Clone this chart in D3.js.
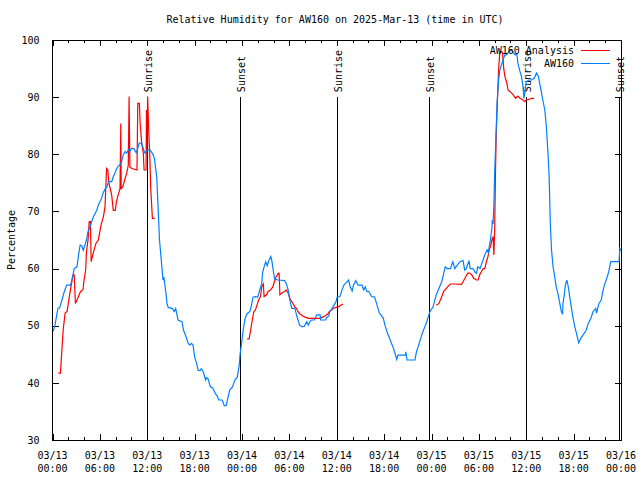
<!DOCTYPE html>
<html><head><meta charset="utf-8">
<script src="https://cdn.jsdelivr.net/npm/d3@7"></script>
<style>
body{margin:0;background:#fff}
text{font-family:"DejaVu Sans Mono","Liberation Mono",monospace;font-size:10px;fill:#000}
</style></head><body>
<svg id="c" width="640" height="480"></svg>
<script>
const title = "Relative Humidity for AW160 on 2025-Mar-13 (time in UTC)";
const yLabel = "Percentage";
const seriesNames = ["AW160 Analysis", "AW160"];
const yTicks = [30,40,50,60,70,80,90,100];
const startUTC = Date.UTC(2025,2,13,0,0);
const endUTC = Date.UTC(2025,2,16,0,0);
const sunriseHours = [12.0, 36.05, 59.97];
const sunsetHours = [23.77, 47.7, 71.71];

// AW160 observations: hours since 03/13 00:00 UTC, RH %
const obsHours = [0.1,0.3,0.5,0.7,0.9,1.2,1.5,1.8,2.3,2.6,2.75,3.1,3.3,3.5,3.7,3.9,4.1,4.3,4.5,4.75,4.95,5.2,5.6,5.8,6.0,6.2,6.4,6.65,6.85,7.1,7.5,7.7,7.9,8.1,8.3,8.5,8.75,8.95,9.2,9.4,9.6,9.8,10.0,10.3,10.6,10.75,11.0,11.3,11.5,11.7,11.9,12.1,12.4,12.75,12.9,13.2,13.3,13.45,13.55,13.7,13.85,14.0,14.1,14.25,14.4,14.5,14.65,15.2,15.4,15.6,15.9,16.4,16.6,16.9,17.2,17.4,17.6,17.8,18.0,18.25,18.45,18.7,18.85,19.1,19.4,19.5,19.7,20.0,20.3,20.6,20.9,21.05,21.5,21.75,22.0,22.15,22.45,22.8,23.1,23.4,23.65,23.75,24.0,24.15,24.4,24.65,25.0,25.2,25.4,25.7,26.0,26.25,26.5,26.6,26.8,27.0,27.2,27.4,27.65,27.8,27.95,28.15,28.6,29.4,29.6,29.85,30.05,30.3,30.7,30.9,31.1,31.3,31.6,31.9,32.2,32.4,32.6,32.8,33.2,33.45,33.9,33.95,34.6,34.7,35.0,35.1,35.4,35.65,35.9,36.05,36.4,36.7,36.9,37.1,37.5,37.7,37.95,38.1,38.4,38.7,39.2,39.4,39.6,39.8,40.1,40.4,40.8,41.1,41.4,41.6,41.9,42.1,42.3,42.5,42.7,42.9,43.15,43.35,43.6,43.75,44.7,44.75,44.9,45.9,46.1,46.3,46.5,46.7,46.9,47.15,47.4,47.6,47.8,48.2,48.4,48.6,48.95,49.3,49.55,49.75,50.0,50.4,50.7,50.95,51.1,51.6,52.0,52.2,52.4,52.75,52.9,53.25,53.5,53.7,53.85,54.15,54.45,54.75,55.05,55.2,55.45,55.65,55.7,55.8,55.9,56.0,56.15,56.3,56.5,56.65,56.85,57.05,57.3,57.5,57.8,58.1,58.35,58.6,58.8,58.95,59.2,59.4,59.6,59.7,59.85,60.0,60.3,60.65,61.0,61.3,61.55,61.7,61.9,62.1,62.35,62.55,62.75,62.9,63.05,63.2,63.4,63.6,63.8,64.0,64.25,64.45,64.6,64.65,64.8,64.95,65.15,65.35,65.5,65.7,65.9,66.15,66.35,66.65,66.9,67.2,67.6,67.85,68.2,68.45,68.8,68.9,69.2,69.5,69.7,69.9,70.2,70.45,70.7,71.5,71.75,71.85,72.0];
const obsRH = [49.0,50.0,51.6,53.1,53.1,54.5,56.0,57.1,57.1,58.9,60.0,60.3,62.4,64.1,64.0,63.2,64.1,65.0,66.5,67.3,68.2,69.1,70.2,71.1,71.7,72.2,73.2,73.9,74.2,75.2,75.2,76.1,76.7,77.4,77.9,78.1,78.7,79.9,80.5,80.2,80.8,80.5,81.0,81.0,80.3,80.8,82.0,81.9,81.0,80.2,80.5,80.8,80.7,79.9,79.3,76.1,73.0,68.3,65.0,62.7,60.3,58.0,58.5,57.0,55.4,53.9,53.2,53.0,52.5,53.0,51.0,50.7,49.2,48.1,46.9,46.6,46.9,46.6,44.6,43.4,42.2,42.2,42.5,41.9,40.5,40.9,40.7,39.3,39.1,38.2,37.6,37.0,37.0,36.0,36.0,37.0,38.75,39.3,40.5,41.0,43.1,44.9,47.5,49.25,51.3,52.1,52.5,53.6,55.0,55.1,55.0,56.25,57.4,59.2,60.3,61.2,60.5,61.4,62.1,61.2,59.75,58.1,58.0,57.9,57.4,56.25,54.5,53.05,53.05,51.9,51.0,50.1,49.8,49.9,50.7,50.1,50.7,51.0,51.0,51.9,51.9,51.0,51.0,51.4,51.7,52.45,53.0,53.6,54.2,55.0,55.1,56.4,57.1,57.4,58.0,56.8,56.1,57.0,57.9,57.1,57.1,56.25,56.8,56.0,55.95,55.1,55.0,53.6,52.2,51.9,51.3,50.1,49.25,48.4,47.8,47.0,46.2,45.3,44.1,44.85,44.9,45.45,44.0,44.0,45.45,46.3,47.2,48.05,48.95,49.8,50.7,51.6,52.45,53.3,54.4,55.4,56.55,57.7,59.2,60.3,60.0,60.0,61.2,60.0,60.3,61.2,61.4,59.75,60.0,61.4,60.0,60.0,59.4,59.2,60.3,60.0,61.2,62.4,63.25,62.8,65.0,67.0,68.5,67.8,71.1,76.7,82.5,88.9,93.0,94.75,95.6,96.5,97.4,97.4,97.95,98.25,97.8,97.4,97.6,95.9,94.5,93.6,91.8,89.8,91.0,92.7,93.0,93.0,93.3,94.2,93.6,92.4,91.0,89.5,87.75,84.8,80.2,76.1,67.9,63.25,60.3,58.6,56.8,55.7,53.9,52.45,52.0,53.9,55.2,57.1,58.0,56.6,55.1,53.3,51.6,49.8,48.7,47.0,47.8,48.4,49.25,50.4,51.3,52.45,53.0,52.2,53.9,54.5,56.0,57.1,58.3,59.45,61.2,61.2,61.2,63.5,63.2];

// AW160 Analysis: three runs (null = gap)
const anaHours = [0.75,1.0,1.15,1.35,1.6,1.85,2.0,2.2,2.45,2.6,2.75,2.9,3.1,3.3,3.55,3.85,4.0,4.2,4.3,4.5,4.65,4.8,4.9,5.15,5.5,5.8,6.0,6.2,6.45,6.65,6.85,7.0,7.15,7.35,7.5,7.7,7.95,8.1,8.3,8.55,8.65,8.7,8.9,9.2,9.4,9.6,9.7,9.8,10.05,10.7,10.8,11.0,11.1,11.3,11.5,11.6,11.85,11.9,11.95,12.05,12.2,12.3,12.45,12.65,12.95,
  18.0,
  24.65,24.9,25.1,25.3,25.5,25.7,25.9,26.1,26.35,26.5,26.7,26.8,27.1,27.3,27.6,27.9,28.1,28.3,28.6,28.7,28.8,29.0,29.4,29.6,29.85,30.05,30.3,30.5,30.7,30.9,31.1,31.3,31.7,32.0,32.4,33.4,33.9,34.2,34.5,34.9,35.05,35.3,35.6,35.9,36.2,36.5,36.8,
  42.0,
  48.6,48.95,49.3,49.55,49.8,50.1,50.4,50.95,51.8,52.0,52.35,52.6,52.85,53.1,53.35,53.7,53.9,54.1,54.3,54.55,54.75,54.95,55.15,55.3,55.5,55.65,55.8,55.9,56.0,56.1,56.2,56.35,56.5,56.65,56.9,57.0,57.15,57.3,57.5,57.7,57.9,58.1,58.35,58.65,58.95,59.2,59.5,59.8,60.0,60.35,60.65,61.0];
const anaRH = [41.7,41.7,44.9,49.25,52.2,52.5,53.9,55.7,57.7,58.9,58.9,53.9,54.5,55.1,56.0,56.25,58.0,59.75,62.95,65.0,68.2,68.2,61.2,62.7,64.4,65.0,66.5,67.9,69.1,70.8,77.5,77.2,74.9,73.75,72.8,70.2,70.2,71.7,72.8,74.0,85.4,74.0,74.3,75.8,76.7,78.1,90.1,77.8,77.5,77.25,88.9,88.9,85.4,81.9,80.2,77.25,77.25,87.75,80.2,90.1,83.7,80.5,73.75,68.8,68.8,
  null,
  47.7,47.7,49.25,51.0,52.45,52.75,53.6,54.5,55.1,56.8,57.3,55.1,55.4,56.0,56.25,56.8,57.7,58.5,59.2,59.2,55.4,55.7,56.0,56.25,55.7,54.8,54.2,53.8,53.3,53.05,52.45,52.1,51.7,51.5,51.3,51.3,51.3,51.5,51.7,52.1,52.45,52.7,53.05,53.2,53.3,53.6,53.8,
  null,
  53.6,53.9,55.1,56.0,56.4,56.9,57.3,57.3,57.25,57.7,58.6,59.2,59.2,58.9,58.3,58.0,58.0,58.9,59.4,60.0,60.0,61.2,62.1,63.25,64.0,65.0,65.6,62.4,66.75,76.7,83.7,89.5,94.75,97.95,97.95,97.7,95.0,93.6,92.7,91.25,91.0,90.8,90.4,89.8,90.2,89.8,89.6,89.2,89.5,89.6,89.8,89.8];

const colors = {analysis:"#ff0000", obs:"#0080ff"};
const L=52.5, R=621, T=40, B=440;
const svg = d3.select("#c");
const toDate = h => new Date(startUTC + h*3600e3);
const x = d3.scaleUtc().domain([new Date(startUTC), new Date(endUTC)]).range([L,R]);
const y = d3.scaleLinear().domain([30,100]).range([B,T]);

const majors = d3.utcHour.every(6).range(new Date(startUTC), new Date(endUTC+1));
const minors = d3.utcHour.every(2).range(new Date(startUTC), new Date(endUTC+1)).filter(d=>d.getUTCHours()%6!==0);

function axisStyle(g){ g.select(".domain").remove(); g.selectAll("line").attr("stroke","#000").attr("shape-rendering","crispEdges"); }
svg.append("g").attr("transform",`translate(0,${B})`).call(d3.axisBottom(x).tickValues(majors).tickSizeInner(-6).tickSizeOuter(0).tickFormat("")).call(axisStyle);
svg.append("g").attr("transform",`translate(0,${B})`).call(d3.axisBottom(x).tickValues(minors).tickSizeInner(-3).tickSizeOuter(0).tickFormat("")).call(axisStyle);
svg.append("g").attr("transform",`translate(0,${T})`).call(d3.axisTop(x).tickValues(majors).tickSizeInner(-6).tickSizeOuter(0).tickFormat("")).call(axisStyle);
svg.append("g").attr("transform",`translate(0,${T})`).call(d3.axisTop(x).tickValues(minors).tickSizeInner(-3).tickSizeOuter(0).tickFormat("")).call(axisStyle);
svg.append("g").attr("transform",`translate(${L},0)`).call(d3.axisLeft(y).tickValues(yTicks).tickSizeInner(-6).tickSizeOuter(0).tickPadding(13)).call(axisStyle)
  .selectAll("text").style("font-family",'"DejaVu Sans Mono"').style("font-size","10px").attr("fill","#000");
svg.append("g").attr("transform",`translate(${R},0)`).call(d3.axisRight(y).tickValues(yTicks).tickSizeInner(-6).tickSizeOuter(0).tickFormat("")).call(axisStyle);

const fmtD = d3.utcFormat("%m/%d"), fmtT = d3.utcFormat("%H:%M");
const xl = svg.append("g").selectAll("text").data(majors).join("text")
  .attr("text-anchor","middle").attr("transform",d=>`translate(${x(d)},0)`);
xl.append("tspan").attr("x",0).attr("y",458.5).text(fmtD);
xl.append("tspan").attr("x",0).attr("y",471.5).text(fmtT);

// sunrise / sunset markers
const events = sunriseHours.map(h=>({h,label:"Sunrise"})).concat(sunsetHours.map(h=>({h,label:"Sunset"})));
svg.append("g").selectAll("line").data(events).join("line")
  .attr("x1",d=>Math.round(x(toDate(d.h)))+0.5).attr("x2",d=>Math.round(x(toDate(d.h)))+0.5)
  .attr("y1",y(90)).attr("y2",y(30)).attr("stroke","#000").attr("stroke-width",1).attr("shape-rendering","crispEdges");
svg.append("g").selectAll("text").data(events).join("text")
  .attr("transform",d=>`translate(${Math.round(x(toDate(d.h)))+4.5},${y(90)-5}) rotate(-90)`)
  .attr("text-anchor","start").text(d=>d.label);

// series
const line = d3.line().defined(d=>d[1]!==null).x(d=>x(toDate(d[0]))).y(d=>y(d[1]));
const obsData = obsHours.map((h,i)=>[h,obsRH[i]]);
const anaData = anaHours.map((h,i)=>[h,anaRH[i]]);
svg.append("path").datum(anaData).attr("d",line).attr("fill","none").attr("stroke",colors.analysis).attr("stroke-width",1.2);
svg.append("path").datum(obsData).attr("d",line).attr("fill","none").attr("stroke",colors.obs).attr("stroke-width",1.2);

// border
svg.append("rect").attr("x",L).attr("y",T).attr("width",R-L).attr("height",B-T)
  .attr("fill","none").attr("stroke","#000").attr("shape-rendering","crispEdges");

// legend
const leg = [{name:seriesNames[0],c:colors.analysis,y:50},{name:seriesNames[1],c:colors.obs,y:63}];
const lg = svg.append("g");
leg.forEach(d=>{
  lg.append("text").attr("x",574).attr("y",d.y+4).attr("text-anchor","end").text(d.name);
  lg.append("line").attr("x1",581).attr("x2",610).attr("y1",d.y+0.5).attr("y2",d.y+0.5).attr("stroke",d.c).attr("stroke-width",1).attr("shape-rendering","crispEdges");
});

// titles
svg.append("text").attr("x",335).attr("y",23).attr("text-anchor","middle").text(title);
svg.append("text").attr("transform","translate(15,240) rotate(-90)").attr("text-anchor","middle").text(yLabel);
</script></body></html>
